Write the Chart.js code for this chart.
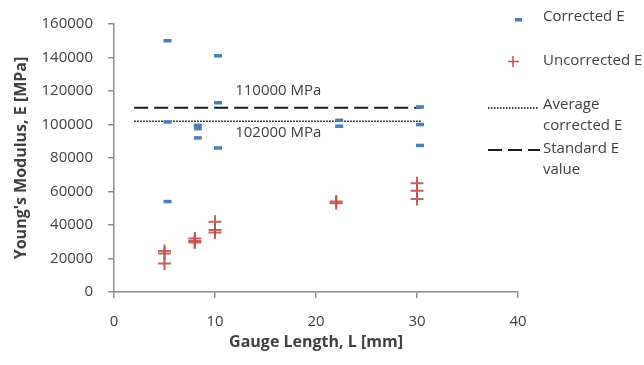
<!DOCTYPE html>
<html>
<head>
<meta charset="utf-8">
<script src="https://cdn.jsdelivr.net/npm/chart.js@4"></script>
<style>
  body { margin: 0; background: #fff; }
  #wrap { position: relative; width: 644px; height: 365px; }
</style>
</head>
<body>
<div id="wrap"><canvas id="chart"></canvas></div>
<script>
// values
const correctedL = [5.3, 5.3, 5.3, 8.3, 8.3, 8.3, 10.3, 10.3, 10.3, 22.3, 22.3, 30.3, 30.3, 30.3];
const correctedE = [150000, 101500, 54000, 99500, 97500, 92000, 141000, 113000, 86000, 102500, 99000, 110500, 100000, 87500];

const uncorrectedL = [5, 5, 5, 8, 8, 8, 10, 10, 10, 22, 22, 30, 30, 30];
const uncorrectedE = [24500, 23000, 17000, 32000, 30500, 29500, 42000, 37000, 35500, 54000, 53000, 65000, 60500, 55500];

const refLineL = [2, 30.4];
const averageE = [102000, 102000];
const standardE = [110000, 110000];

const lineLabelText = ['110000 MPa', '102000 MPa'];
const lineLabelL = [12, 12];
const lineLabelE = [120400, 95000];

const xTicks = [0, 10, 20, 30, 40];
const yTicks = [0, 20000, 40000, 60000, 80000, 100000, 120000, 140000, 160000];

const FONT = "'Open Sans', 'DejaVu Sans', sans-serif";
const TEXT = '#404040';
const AXIS = '#8c8c8c';
const BLUE = '#4a7ebb';
const RED = '#c0504d';

function pts(xs, ys) {
  return xs.map((x, i) => ({ x: x, y: ys[i] }));
}

// text next to the two reference lines
const lineLabels = {
  id: 'lineLabels',
  afterDatasetsDraw(chart) {
    const ctx = chart.ctx;
    const xs = chart.scales.x, ys = chart.scales.y;
    ctx.save();
    ctx.font = '15px ' + FONT;
    ctx.fillStyle = TEXT;
    ctx.textAlign = 'left';
    ctx.textBaseline = 'middle';
    lineLabelText.forEach((t, i) => {
      ctx.fillText(t, xs.getPixelForValue(lineLabelL[i]), ys.getPixelForValue(lineLabelE[i]));
    });
    ctx.restore();
  }
};

// legend on the right, excel style
const sideLegend = {
  id: 'sideLegend',
  afterDraw(chart) {
    const ctx = chart.ctx;
    const tx = 543;
    ctx.save();
    ctx.font = '15px ' + FONT;
    ctx.fillStyle = TEXT;
    ctx.textAlign = 'left';
    ctx.textBaseline = 'middle';

    ctx.fillText('Corrected E', tx, 17);
    ctx.fillText('Uncorrected E', tx, 61);
    ctx.fillText('Average', tx, 105);
    ctx.fillText('corrected E', tx, 126);
    ctx.fillText('Standard E', tx, 149);
    ctx.fillText('value', tx, 170);

    // blue dash
    ctx.fillStyle = BLUE;
    ctx.fillRect(515, 18, 7, 3.5);

    // red cross
    ctx.strokeStyle = RED;
    ctx.lineWidth = 1.5;
    ctx.beginPath();
    ctx.moveTo(513, 56); ctx.lineTo(513, 67);
    ctx.moveTo(508, 61.5); ctx.lineTo(519, 61.5);
    ctx.stroke();

    // dotted
    ctx.strokeStyle = '#000';
    ctx.lineWidth = 1.5;
    ctx.setLineDash([1.5, 1.5]);
    ctx.beginPath();
    ctx.moveTo(488, 108); ctx.lineTo(538, 108);
    ctx.stroke();

    // dashed
    ctx.strokeStyle = '#1a1a1a';
    ctx.lineWidth = 2;
    ctx.setLineDash([14, 6]);
    ctx.beginPath();
    ctx.moveTo(488, 150); ctx.lineTo(540, 150);
    ctx.stroke();
    ctx.restore();
  }
};

new Chart(document.getElementById('chart'), {
  type: 'scatter',
  data: {
    datasets: [
      {
        label: 'Corrected E',
        data: pts(correctedL, correctedE),
        pointStyle: 'line',
        radius: 4,
        borderWidth: 3.5,
        borderColor: BLUE,
        backgroundColor: BLUE,
        order: 0
      },
      {
        label: 'Uncorrected E',
        data: pts(uncorrectedL, uncorrectedE),
        pointStyle: 'cross',
        radius: 6.5,
        borderWidth: 2,
        borderColor: 'rgba(192,80,77,0.9)',
        backgroundColor: RED,
        order: 0
      },
      {
        type: 'line',
        label: 'Average corrected E',
        data: pts(refLineL, averageE),
        borderColor: '#000',
        borderWidth: 1.5,
        borderDash: [1.5, 1.5],
        pointRadius: 0,
        order: 1
      },
      {
        type: 'line',
        label: 'Standard E value',
        data: pts(refLineL, standardE),
        borderColor: '#1a1a1a',
        borderWidth: 2,
        borderDash: [14, 6],
        pointRadius: 0,
        order: 1
      }
    ]
  },
  options: {
    responsive: true,
    maintainAspectRatio: false,
    animation: false,
    layout: { padding: { left: 0, top: 24, right: 126, bottom: 0 } },
    plugins: {
      legend: { display: false },
      tooltip: { enabled: false }
    },
    scales: {
      x: {
        type: 'linear',
        min: 0,
        max: 40,
        afterFit(scale) { scale.height = 73; },
        afterBuildTicks(scale) { scale.ticks = xTicks.map(v => ({ value: v })); },
        ticks: { color: TEXT, font: { family: FONT, size: 15 }, padding: 15 },
        grid: { drawOnChartArea: false, drawTicks: true, tickLength: 6, color: AXIS, lineWidth: 1.5 },
        border: { color: AXIS, width: 1.5 },
        title: {
          display: true,
          text: 'Gauge Length, L [mm]',
          color: TEXT,
          font: { family: FONT, size: 16, weight: 'bold' },
          padding: 13
        }
      },
      y: {
        type: 'linear',
        min: 0,
        max: 160000,
        afterFit(scale) { scale.width = 114; },
        afterBuildTicks(scale) { scale.ticks = yTicks.map(v => ({ value: v })); },
        ticks: {
          color: TEXT,
          font: { family: FONT, size: 15 },
          padding: 15,
          callback: v => String(v)
        },
        grid: { drawOnChartArea: false, drawTicks: true, tickLength: 6, color: AXIS, lineWidth: 1.5 },
        border: { color: AXIS, width: 1.5 },
        title: {
          display: true,
          text: "Young's Modulus, E [MPa]",
          color: TEXT,
          font: { family: FONT, size: 16, weight: 'bold' },
          padding: 12
        }
      }
    }
  },
  plugins: [lineLabels, sideLegend]
});
</script>
</body>
</html>
